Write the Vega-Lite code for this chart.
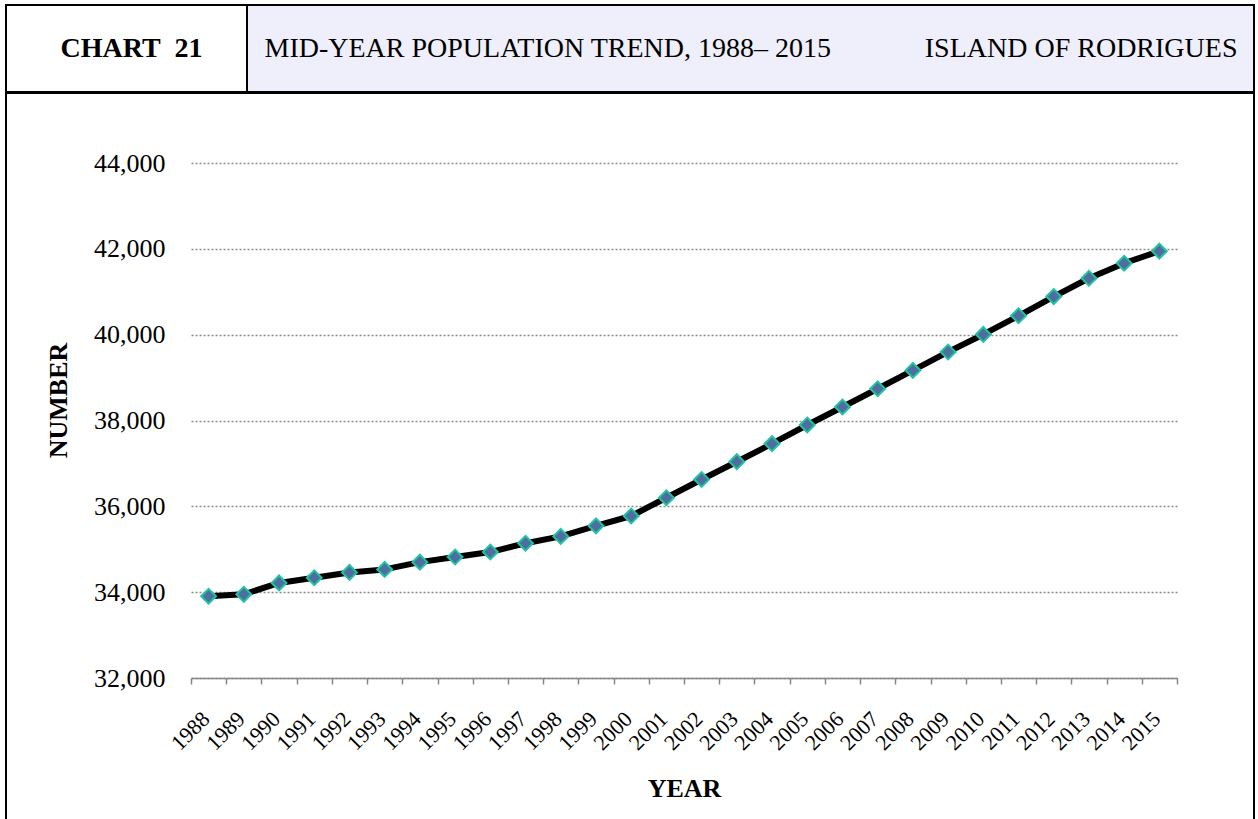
{
  "$schema": "https://vega.github.io/schema/vega-lite/v6.json",
  "padding": {"left": -3, "top": 4, "right": 0, "bottom": 0},
  "background": "white",
  "config": {
    "font": "Liberation Serif",
    "view": {"stroke": "black", "strokeWidth": 2}
  },
  "spacing": -2,
  "vconcat": [
    {
      "bounds": "flush",
      "spacing": 0,
      "hconcat": [
        {
          "width": 241,
          "height": 87,
          "view": {"fill": "white", "stroke": "black", "strokeWidth": 2},
          "data": {"values": [{"label": "CHART\u00a0\u00a021"}]},
          "mark": {"type": "text", "font": "Liberation Serif", "fontSize": 28, "fontWeight": "bold", "color": "black", "align": "center", "baseline": "middle", "dx": 5},
          "encoding": {"text": {"field": "label", "type": "nominal"}}
        },
        {
          "width": 1007,
          "height": 87,
          "view": {"fill": "#eeeffb", "stroke": "black", "strokeWidth": 2},
          "data": {"values": [
            {"label": "MID-YEAR POPULATION TREND, 1988– 2015", "side": "left"},
            {"label": "ISLAND OF RODRIGUES", "side": "right"}
          ]},
          "layer": [
            {
              "transform": [{"filter": "datum.side === 'left'"}],
              "mark": {"type": "text", "font": "Liberation Serif", "fontSize": 28, "color": "black", "align": "left", "baseline": "middle", "dx": -486},
              "encoding": {"text": {"field": "label", "type": "nominal"}}
            },
            {
              "transform": [{"filter": "datum.side === 'right'"}],
              "mark": {"type": "text", "font": "Liberation Serif", "fontSize": 28, "color": "black", "align": "right", "baseline": "middle", "dx": 487},
              "encoding": {"text": {"field": "label", "type": "nominal"}}
            }
          ]
        }
      ]
    },
    {
      "width": 1248,
      "height": 735,
      "data": {"values": [
        {"year": 1988, "population": 33905},
        {"year": 1989, "population": 33950},
        {"year": 1990, "population": 34215},
        {"year": 1991, "population": 34335},
        {"year": 1992, "population": 34460},
        {"year": 1993, "population": 34530},
        {"year": 1994, "population": 34700},
        {"year": 1995, "population": 34820},
        {"year": 1996, "population": 34935},
        {"year": 1997, "population": 35140},
        {"year": 1998, "population": 35300},
        {"year": 1999, "population": 35545},
        {"year": 2000, "population": 35775},
        {"year": 2001, "population": 36200},
        {"year": 2002, "population": 36625},
        {"year": 2003, "population": 37040},
        {"year": 2004, "population": 37460},
        {"year": 2005, "population": 37895},
        {"year": 2006, "population": 38315},
        {"year": 2007, "population": 38740},
        {"year": 2008, "population": 39168},
        {"year": 2009, "population": 39597},
        {"year": 2010, "population": 40005},
        {"year": 2011, "population": 40440},
        {"year": 2012, "population": 40888},
        {"year": 2013, "population": 41315},
        {"year": 2014, "population": 41665},
        {"year": 2015, "population": 41945}
      ]},
      "encoding": {
        "x": {
          "field": "year",
          "type": "ordinal",
          "scale": {"type": "band", "paddingInner": 0, "paddingOuter": 0, "range": [185, 1171]},
          "axis": {
            "title": "YEAR",
            "titleFont": "Liberation Serif",
            "titleFontSize": 26,
            "titleFontWeight": "bold",
            "titleColor": "black",
            "titleY": 110,
            "titleBaseline": "middle",
            "offset": -150,
            "domainColor": "#868686",
            "domainWidth": 1.5,
            "tickColor": "#868686",
            "tickWidth": 1.5,
            "tickSize": 6,
            "tickBand": "extent",
            "labelAngle": -45,
            "labelAlign": "right",
            "labelBaseline": "middle",
            "labelFont": "Liberation Serif",
            "labelFontSize": 22,
            "labelColor": "black",
            "labelPadding": 31,
            "labelOffset": -3,
            "grid": false
          }
        },
        "y": {
          "field": "population",
          "type": "quantitative",
          "scale": {"domain": [32000, 44000], "range": [585, 70], "nice": false, "zero": false},
          "axis": {
            "values": [32000, 34000, 36000, 38000, 40000, 42000, 44000],
            "format": ",d",
            "offset": -185,
            "domain": false,
            "ticks": false,
            "labelPadding": 26,
            "labelFont": "Liberation Serif",
            "labelFontSize": 26,
            "labelColor": "black",
            "grid": true,
            "gridColor": "#8a8a8a",
            "gridDash": [2, 2],
            "gridWidth": 1.3,
            "title": "NUMBER",
            "titleFont": "Liberation Serif",
            "titleFontSize": 26,
            "titleFontWeight": "bold",
            "titleColor": "black",
            "titleAngle": -90,
            "titleAlign": "center",
            "titleBaseline": "middle",
            "titleX": -133,
            "titleY": 307
          }
        }
      },
      "layer": [
        {"mark": {"type": "line", "color": "black", "strokeWidth": 6, "strokeJoin": "round"}},
        {"mark": {"type": "point", "shape": "diamond", "filled": true, "fill": "#4d6e9e", "stroke": "#20c4a0", "strokeWidth": 2, "size": 220, "opacity": 1}}
      ]
    }
  ]
}
